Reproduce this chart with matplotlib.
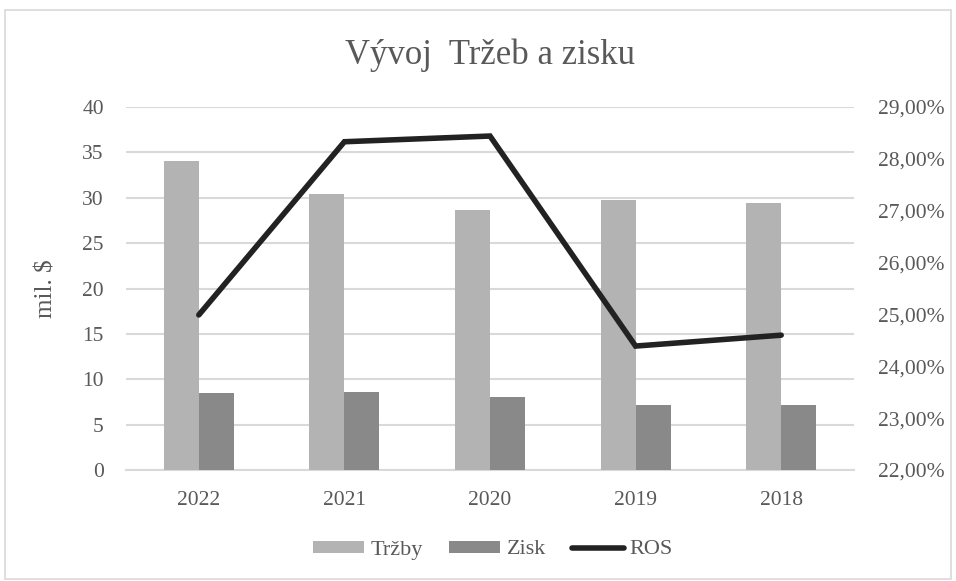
import matplotlib
matplotlib.use("Agg")
import matplotlib.pyplot as plt
import numpy as np
from matplotlib.patches import Rectangle
from matplotlib.ticker import FuncFormatter

years = ["2022", "2021", "2020", "2019", "2018"]
trzby = [34.0, 30.4, 28.6, 29.75, 29.45]
zisk = [8.45, 8.6, 8.05, 7.2, 7.2]
ros = [24.99, 28.33, 28.44, 24.39, 24.60]

plt.rcParams['font.family'] = ['Liberation Serif', 'DejaVu Serif']
txt = '#595959'

fig = plt.figure(figsize=(9.56, 5.81), dpi=100)
W, H = 956, 581
ax = fig.add_axes([126 / W, 1 - 470 / H, (854 - 126) / W, (470 - 107) / H])
ax2 = ax.twinx()

x = np.arange(len(years))
bw = 0.24
ax.bar(x - bw / 2, trzby, bw, color='#b3b3b3', label='Tržby', zorder=3)
ax.bar(x + bw / 2, zisk, bw, color='#898989', label='Zisk', zorder=3)
ax2.plot(x, ros, color='#222222', lw=4, solid_capstyle='round', solid_joinstyle='miter', label='ROS', zorder=4)

ax.set_xlim(-0.5, len(years) - 0.5)
ax.set_ylim(0, 40)
ax.set_yticks(range(0, 41, 5))
ax2.set_ylim(22, 29)
ax2.set_yticks(range(22, 30))
ax2.yaxis.set_major_formatter(FuncFormatter(lambda v, p: f"{v:.2f}".replace('.', ',') + '%'))
ax.set_xticks(x)
ax.set_xticklabels(years)
ax.grid(axis='y', color='#d9d9d9', lw=1.5, zorder=0)
ax.set_axisbelow(True)

for a in (ax, ax2):
    for s in a.spines.values():
        s.set_visible(False)
    a.tick_params(length=0, labelsize=15.5, colors=txt)
ax.spines['bottom'].set_visible(True)
ax.spines['bottom'].set_color('#d9d9d9')
ax.spines['bottom'].set_linewidth(1.5)
ax.tick_params(axis='x', pad=15)
ax.tick_params(axis='y', pad=16)
ax2.tick_params(axis='y', pad=17)

ax.set_ylabel('mil. $', fontsize=18, color=txt, labelpad=0)
ax.yaxis.set_label_coords((57 - 126) / (854 - 126), 0.5)

fig.text(490 / W, 1 - 55 / H, 'Vývoj  Tržeb a zisku', fontsize=25, color=txt, ha='center', va='center')

h1, l1 = ax.get_legend_handles_labels()
h2, l2 = ax2.get_legend_handles_labels()
fig.legend(h1 + h2, l1 + l2, loc='center', bbox_to_anchor=(493 / W, 1 - 550 / H), ncol=3,
           frameon=False, fontsize=16, labelcolor=txt, handlelength=2.3, handleheight=0.45,
           columnspacing=1.2, handletextpad=0.27)

fig.patches.append(Rectangle((5 / W, 2 / H), 946 / W, 1 - 12 / H, transform=fig.transFigure,
                             fill=False, edgecolor='#d9d9d9', lw=1.2))

fig.savefig('out.png', dpi=100)
